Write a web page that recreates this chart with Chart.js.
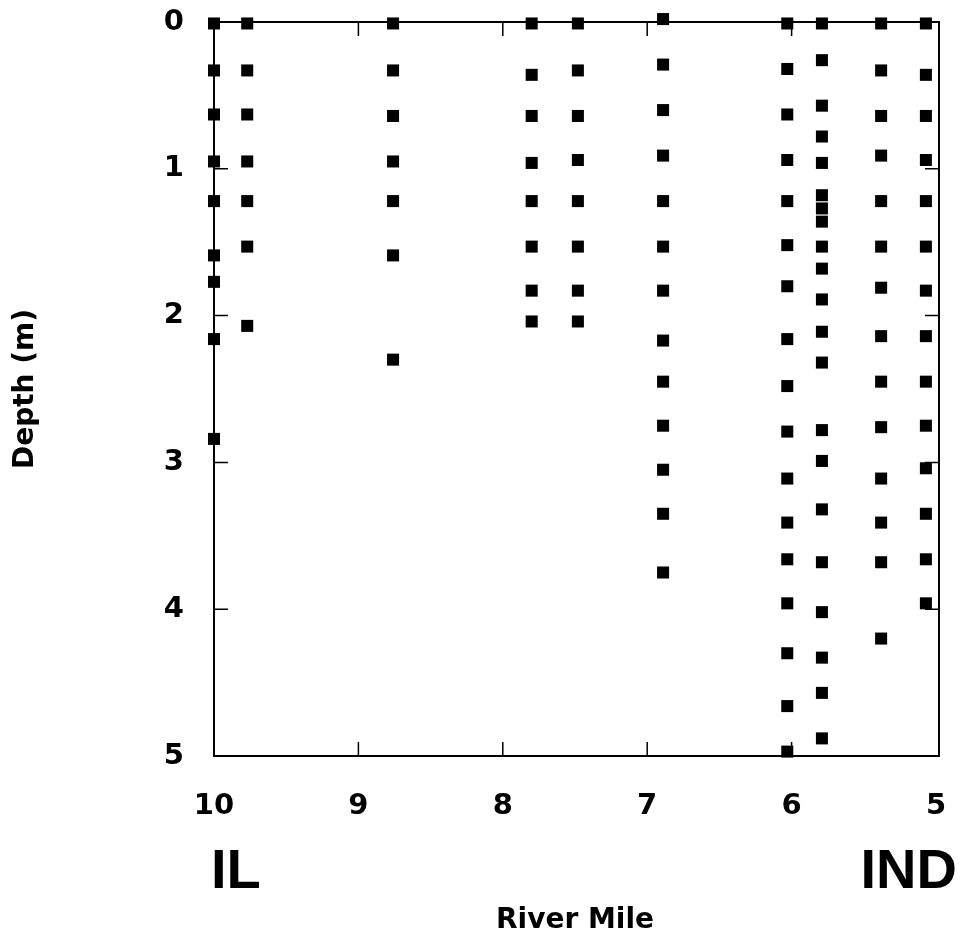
<!DOCTYPE html>
<html>
<head>
<meta charset="utf-8">
<script src="https://cdn.jsdelivr.net/npm/chart.js@4/dist/chart.umd.min.js"></script>
<style>
  html, body { margin: 0; padding: 0; background: #fff; }
  #wrap { width: 961px; height: 943px; }
</style>
</head>
<body>
<div id="wrap"><canvas id="depthChart"></canvas></div>
<script>
// river mile of each sampling station (IL side = 10, IND side = 5)
const stationMiles = [10.0, 9.77, 8.76, 7.80, 7.48, 6.89, 6.03, 5.79, 5.38, 5.07];

// sample depths (m) at each station
const depthsRM100 = [0.01, 0.33, 0.63, 0.95, 1.22, 1.59, 1.77, 2.16, 2.84];
const depthsRM977 = [0.01, 0.33, 0.63, 0.95, 1.22, 1.53, 2.07];
const depthsRM876 = [0.01, 0.33, 0.64, 0.95, 1.22, 1.59, 2.30];
const depthsRM780 = [0.01, 0.36, 0.64, 0.96, 1.22, 1.53, 1.83, 2.04];
const depthsRM748 = [0.01, 0.33, 0.64, 0.94, 1.22, 1.53, 1.83, 2.04];
const depthsRM689 = [-0.02, 0.29, 0.60, 0.91, 1.22, 1.53, 1.83, 2.17, 2.45, 2.75, 3.05, 3.35, 3.75];
const depthsRM603 = [0.01, 0.32, 0.63, 0.94, 1.22, 1.52, 1.80, 2.16, 2.48, 2.79, 3.11, 3.41, 3.66, 3.96, 4.30, 4.66, 4.97];
const depthsRM579 = [0.01, 0.26, 0.57, 0.78, 0.96, 1.18, 1.27, 1.36, 1.53, 1.68, 1.89, 2.11, 2.32, 2.78, 2.99, 3.32, 3.68, 4.02, 4.33, 4.57, 4.88];
const depthsRM538 = [0.01, 0.33, 0.64, 0.91, 1.22, 1.53, 1.81, 2.14, 2.45, 2.76, 3.11, 3.41, 3.68, 4.20];
const depthsRM507 = [0.01, 0.36, 0.64, 0.94, 1.22, 1.53, 1.83, 2.14, 2.45, 2.75, 3.04, 3.35, 3.66, 3.96];

const depthsByStation = [depthsRM100, depthsRM977, depthsRM876, depthsRM780, depthsRM748,
                         depthsRM689, depthsRM603, depthsRM579, depthsRM538, depthsRM507];

// tick labels
const mileTicks = [10, 9, 8, 7, 6, 5];
const depthTicks = [0, 1, 2, 3, 4, 5];
const stateLabels = ['IL', 'IND'];

// build scatter points
const points = [];
stationMiles.forEach((mile, i) => {
    depthsByStation[i].forEach(d => points.push({ x: mile, y: d }));
});

// top/right frame, inward tick marks and state labels
const frameTicks = {
    id: 'frameTicks',
    beforeDatasetsDraw(chart) {
        const { ctx, chartArea: a, scales } = chart;
        const xs = scales.x, ys = scales.y;
        const len = 14;
        const r = a.right + 3;
        ctx.save();
        ctx.strokeStyle = '#000';
        ctx.lineWidth = 2;
        ctx.beginPath();
        ctx.moveTo(a.left, a.top);
        ctx.lineTo(r, a.top);
        ctx.lineTo(r, a.bottom);
        ctx.lineTo(a.left, a.bottom);
        ctx.stroke();
        ctx.lineWidth = 1.5;
        ctx.beginPath();
        mileTicks.slice(1, -1).forEach(v => {
            const px = xs.getPixelForValue(v);
            ctx.moveTo(px, a.top); ctx.lineTo(px, a.top + len);
            ctx.moveTo(px, a.bottom); ctx.lineTo(px, a.bottom - len);
        });
        depthTicks.slice(1, -1).forEach(v => {
            const py = ys.getPixelForValue(v);
            ctx.moveTo(a.left, py); ctx.lineTo(a.left + len, py);
            ctx.moveTo(r, py); ctx.lineTo(r - len, py);
        });
        ctx.stroke();
        ctx.restore();
    },
    afterDraw(chart) {
        const { ctx, scales } = chart;
        const xs = scales.x;
        const base = chart.chartArea.bottom + 132;
        ctx.save();
        ctx.fillStyle = '#000';
        ctx.font = 'bold 56px "Liberation Sans", Arial, sans-serif';
        ctx.textBaseline = 'alphabetic';
        ctx.textAlign = 'left';
        ctx.fillText(stateLabels[0], xs.getPixelForValue(10) - 3, base);
        ctx.textAlign = 'right';
        ctx.fillText(stateLabels[1], xs.getPixelForValue(5) + 21, base);
        ctx.restore();
    }
};

const tickFont = { family: '"DejaVu Sans", sans-serif', size: 29, weight: 'bold' };
const titleFont = { family: '"DejaVu Sans", sans-serif', size: 28, weight: 'bold' };

new Chart(document.getElementById('depthChart'), {
    type: 'scatter',
    data: {
        datasets: [{
            data: points,
            pointStyle: 'rect',
            pointRadius: 8.5,
            pointHoverRadius: 8.5,
            pointBorderWidth: 0,
            backgroundColor: '#000',
            borderColor: '#000',
            clip: false
        }]
    },
    options: {
        responsive: true,
        maintainAspectRatio: false,
        animation: false,
        layout: { padding: { top: 22, right: 25, left: 0, bottom: 0 } },
        plugins: {
            legend: { display: false },
            tooltip: { enabled: false }
        },
        scales: {
            x: {
                type: 'linear',
                reverse: true,
                min: 5,
                max: 10,
                afterFit: s => {
                    s.height = 187;
                    s.paddingLeft = 0;
                    s.paddingRight = 0;
                },
                afterBuildTicks: s => { s.ticks = mileTicks.map(v => ({ value: v })); },
                grid: { display: false, drawTicks: false },
                border: { display: true, color: '#000', width: 2 },
                ticks: { color: '#000', font: tickFont, padding: 33, maxRotation: 0 },
                title: {
                    display: true,
                    text: 'River Mile',
                    color: '#000',
                    font: titleFont,
                    padding: { top: 0, bottom: 5 }
                }
            },
            y: {
                type: 'linear',
                reverse: true,
                min: 0,
                max: 5,
                afterFit: s => {
                    s.width = 214;
                    s.paddingTop = 0;
                    s.paddingBottom = 0;
                },
                afterBuildTicks: s => { s.ticks = depthTicks.map(v => ({ value: v })); },
                grid: { display: false, drawTicks: false },
                border: { display: true, color: '#000', width: 2 },
                ticks: { color: '#000', font: tickFont, padding: 30 },
                title: {
                    display: true,
                    text: 'Depth (m)',
                    color: '#000',
                    font: titleFont,
                    padding: { top: 9, bottom: 0 }
                }
            }
        }
    },
    plugins: [frameTicks]
});
</script>
</body>
</html>
